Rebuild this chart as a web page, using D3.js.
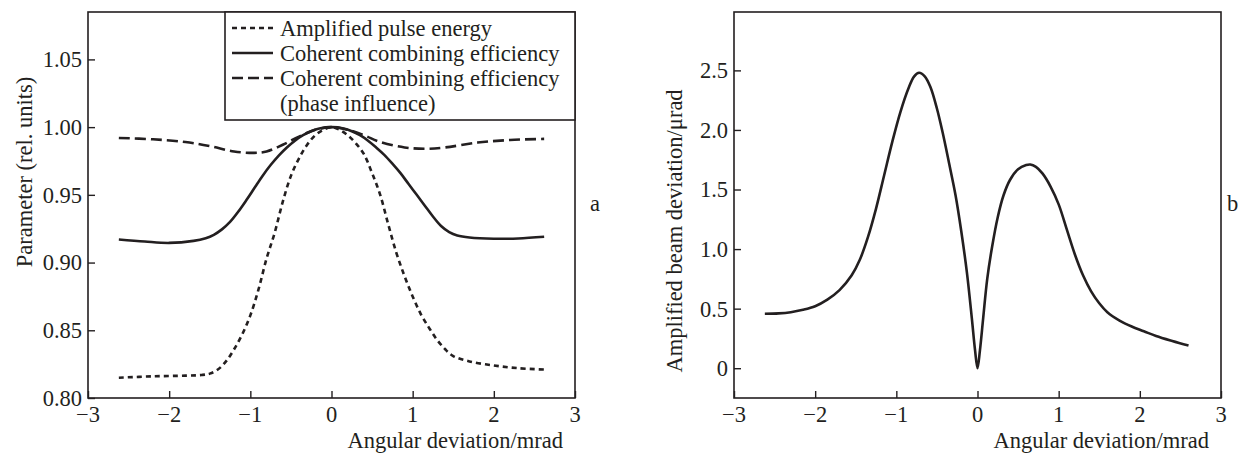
<!DOCTYPE html>
<html>
<head>
<meta charset="utf-8">
<script src="https://cdn.jsdelivr.net/npm/d3@7"></script>
<style>
  body { margin: 0; background: #fff; }
  svg text { font-family: "Liberation Serif", "Times New Roman", serif; fill: #231f20; }
</style>
</head>
<body>
<div id="chart"></div>
<script>
// ticks
var xTicks = [-3, -2, -1, 0, 1, 2, 3];
var yTicksA = [0.80, 0.85, 0.90, 0.95, 1.00, 1.05];
var yTicksB = [0, 0.5, 1.0, 1.5, 2.0, 2.5];

// panel a: amplified pulse energy (dotted)
var energyX = [-2.62, -2.2, -1.8, -1.6, -1.5, -1.4, -1.3, -1.2, -1.1, -1.0, -0.9, -0.8, -0.7, -0.6, -0.5, -0.4, -0.3, -0.2, -0.1, 0,
  0.1, 0.2, 0.3, 0.4, 0.5, 0.6, 0.7, 0.8, 0.9, 1.0, 1.1, 1.2, 1.3, 1.4, 1.5, 1.7, 2.0, 2.3, 2.62];
var energyY = [0.815, 0.816, 0.8165, 0.817, 0.818, 0.821, 0.827, 0.836, 0.847, 0.861, 0.880, 0.903, 0.922, 0.945, 0.964, 0.977, 0.987, 0.994, 0.998, 1.000,
  0.998, 0.994, 0.988, 0.980, 0.966, 0.950, 0.928, 0.907, 0.890, 0.875, 0.862, 0.852, 0.843, 0.836, 0.831, 0.827, 0.824, 0.822, 0.821];

// panel a: coherent combining efficiency (solid)
var effX = [-2.62, -2.3, -2.0, -1.7, -1.55, -1.45, -1.35, -1.25, -1.15, -1.05, -0.95, -0.85, -0.75, -0.65, -0.55, -0.45, -0.35, -0.25, -0.15, 0,
  0.15, 0.25, 0.35, 0.45, 0.55, 0.65, 0.75, 0.85, 0.95, 1.05, 1.15, 1.25, 1.35, 1.45, 1.55, 1.7, 2.0, 2.3, 2.62];
var effY = [0.917, 0.9155, 0.9145, 0.916, 0.918, 0.9205, 0.9245, 0.930, 0.9375, 0.946, 0.955, 0.964, 0.972, 0.979, 0.985, 0.990, 0.994, 0.997, 0.999, 1.000,
  0.999, 0.997, 0.994, 0.990, 0.985, 0.9795, 0.973, 0.966, 0.958, 0.950, 0.942, 0.934, 0.927, 0.9225, 0.920, 0.9185, 0.9176, 0.9178, 0.919];

// panel a: coherent combining efficiency, phase influence (dashed)
var phaseX = [-2.62, -2.2, -1.8, -1.5, -1.2, -0.95, -0.8, -0.6, -0.4, -0.2, 0, 0.2, 0.4, 0.6, 0.9, 1.15, 1.4, 1.8, 2.2, 2.62];
var phaseY = [0.992, 0.991, 0.989, 0.986, 0.982, 0.981, 0.982, 0.987, 0.993, 0.998, 1.000, 0.998, 0.994, 0.989, 0.985, 0.984, 0.985, 0.9886, 0.9905, 0.9913];

// panel b: amplified beam deviation
var beamX = [-2.62, -2.45, -2.3, -2.15, -2.0, -1.85, -1.7, -1.55, -1.45, -1.35, -1.25, -1.15, -1.05, -0.95, -0.85, -0.78, -0.72, -0.65, -0.58, -0.5, -0.43, -0.35, -0.27, -0.2, -0.13, -0.07, -0.03, 0,
  0.03, 0.07, 0.12, 0.18, 0.25, 0.32, 0.4, 0.5, 0.6, 0.65, 0.72, 0.8, 0.9, 1.0, 1.1, 1.2, 1.3, 1.4, 1.5, 1.6, 1.75, 1.9, 2.05, 2.2, 2.4, 2.6];
var beamY = [0.457, 0.46, 0.47, 0.49, 0.52, 0.575, 0.655, 0.78, 0.91, 1.10, 1.34, 1.62, 1.90, 2.15, 2.35, 2.45, 2.48, 2.45, 2.36, 2.18, 1.98, 1.72, 1.45, 1.15, 0.80, 0.42, 0.15, 0.0,
  0.15, 0.42, 0.75, 1.02, 1.27, 1.45, 1.58, 1.67, 1.705, 1.71, 1.69, 1.635, 1.525, 1.375, 1.165, 0.955, 0.78, 0.645, 0.545, 0.47, 0.40, 0.35, 0.31, 0.27, 0.228, 0.19];

var legendLabels = ["Amplified pulse energy", "Coherent combining efficiency", "Coherent combining efficiency", "(phase influence)"];

var ink = "#231f20";
var fontSize = 22.5;

var svg = d3.select("#chart").append("svg")
  .attr("width", 1240)
  .attr("height", 455);

function fmtX(d) { return d < 0 ? "\u2212" + Math.abs(d) : String(d); }

function panel(box, yDomain, yTicks, yFmt, yTitle, yTitleX, yTitleY, letter, letterX) {
  var x = d3.scaleLinear().domain([-3, 3]).range([box.left, box.right]);
  var y = d3.scaleLinear().domain(yDomain).range([box.bottom, box.top]);
  var g = svg.append("g");

  g.append("rect")
    .attr("x", box.left).attr("y", box.top)
    .attr("width", box.right - box.left).attr("height", box.bottom - box.top)
    .attr("fill", "none").attr("stroke", ink).attr("stroke-width", 1.6);

  // ticks point inward
  var xAxis = d3.axisTop(x).tickValues(xTicks).tickSize(7).tickFormat("");
  g.append("g").attr("transform", `translate(0,${box.bottom})`).call(xAxis)
    .call(s => s.select(".domain").remove())
    .selectAll("line").attr("stroke", ink).attr("stroke-width", 1.4);
  g.selectAll(".xlab").data(xTicks).enter().append("text")
    .attr("x", d => x(d)).attr("y", box.bottom + 24)
    .attr("text-anchor", "middle").attr("font-size", fontSize)
    .text(fmtX);

  var yAxis = d3.axisRight(y).tickValues(yTicks).tickSize(7).tickFormat("");
  g.append("g").attr("transform", `translate(${box.left},0)`).call(yAxis)
    .call(s => s.select(".domain").remove())
    .selectAll("line").attr("stroke", ink).attr("stroke-width", 1.4);
  g.selectAll(".ylab").data(yTicks).enter().append("text")
    .attr("x", box.left - 6).attr("y", d => y(d)).attr("dy", "0.35em")
    .attr("text-anchor", "end").attr("font-size", fontSize)
    .text(yFmt);

  g.append("text")
    .attr("x", box.right - 12).attr("y", 448)
    .attr("text-anchor", "end").attr("font-size", fontSize)
    .text("Angular deviation/mrad");

  g.append("text")
    .attr("transform", `translate(${yTitleX},${yTitleY}) rotate(-90)`)
    .attr("text-anchor", "middle").attr("font-size", fontSize)
    .text(yTitle);

  g.append("text")
    .attr("x", letterX).attr("y", 203).attr("dy", "0.35em")
    .attr("font-size", fontSize)
    .text(letter);

  return { x: x, y: y, g: g };
}

var pa = panel({ left: 88, right: 575, top: 12, bottom: 398 }, [0.80, 1.085], yTicksA,
  d => d.toFixed(2), "Parameter (rel. units)", 32, 172, "a", 590);
var pb = panel({ left: 734, right: 1221, top: 12, bottom: 398 }, [-0.25, 2.99], yTicksB,
  d => d === 0 ? "0" : d.toFixed(1), "Amplified beam deviation/\u03bcrad", 682, 231, "b", 1227);

function drawLine(p, xs, ys, dash) {
  var pts = xs.map((v, i) => [v, ys[i]]);
  var line = d3.line()
    .x(d => p.x(d[0])).y(d => p.y(d[1]))
    .curve(d3.curveCatmullRom.alpha(0.5));
  p.g.append("path").datum(pts)
    .attr("d", line)
    .attr("fill", "none").attr("stroke", ink).attr("stroke-width", 2.6)
    .attr("stroke-dasharray", dash);
}

drawLine(pa, energyX, energyY, "5,4");
drawLine(pa, effX, effY, null);
drawLine(pa, phaseX, phaseY, "11,5");
drawLine(pb, beamX, beamY, null);

// legend
var lg = svg.append("g");
lg.append("rect")
  .attr("x", 225).attr("y", 12).attr("width", 350).attr("height", 108)
  .attr("fill", "#fff").attr("stroke", ink).attr("stroke-width", 1.6);
var rowY = [28, 53, 78, 103];
var dashes = ["5,4", null, "11,5"];
lg.selectAll("line").data([0, 1, 2]).enter().append("line")
  .attr("x1", 232).attr("x2", 273)
  .attr("y1", i => rowY[i]).attr("y2", i => rowY[i])
  .attr("stroke", ink).attr("stroke-width", 2.4)
  .attr("stroke-dasharray", i => dashes[i]);
lg.selectAll("text").data(legendLabels).enter().append("text")
  .attr("x", 280).attr("y", (d, i) => rowY[i]).attr("dy", "0.35em")
  .attr("font-size", fontSize)
  .text(d => d);
</script>
</body>
</html>
